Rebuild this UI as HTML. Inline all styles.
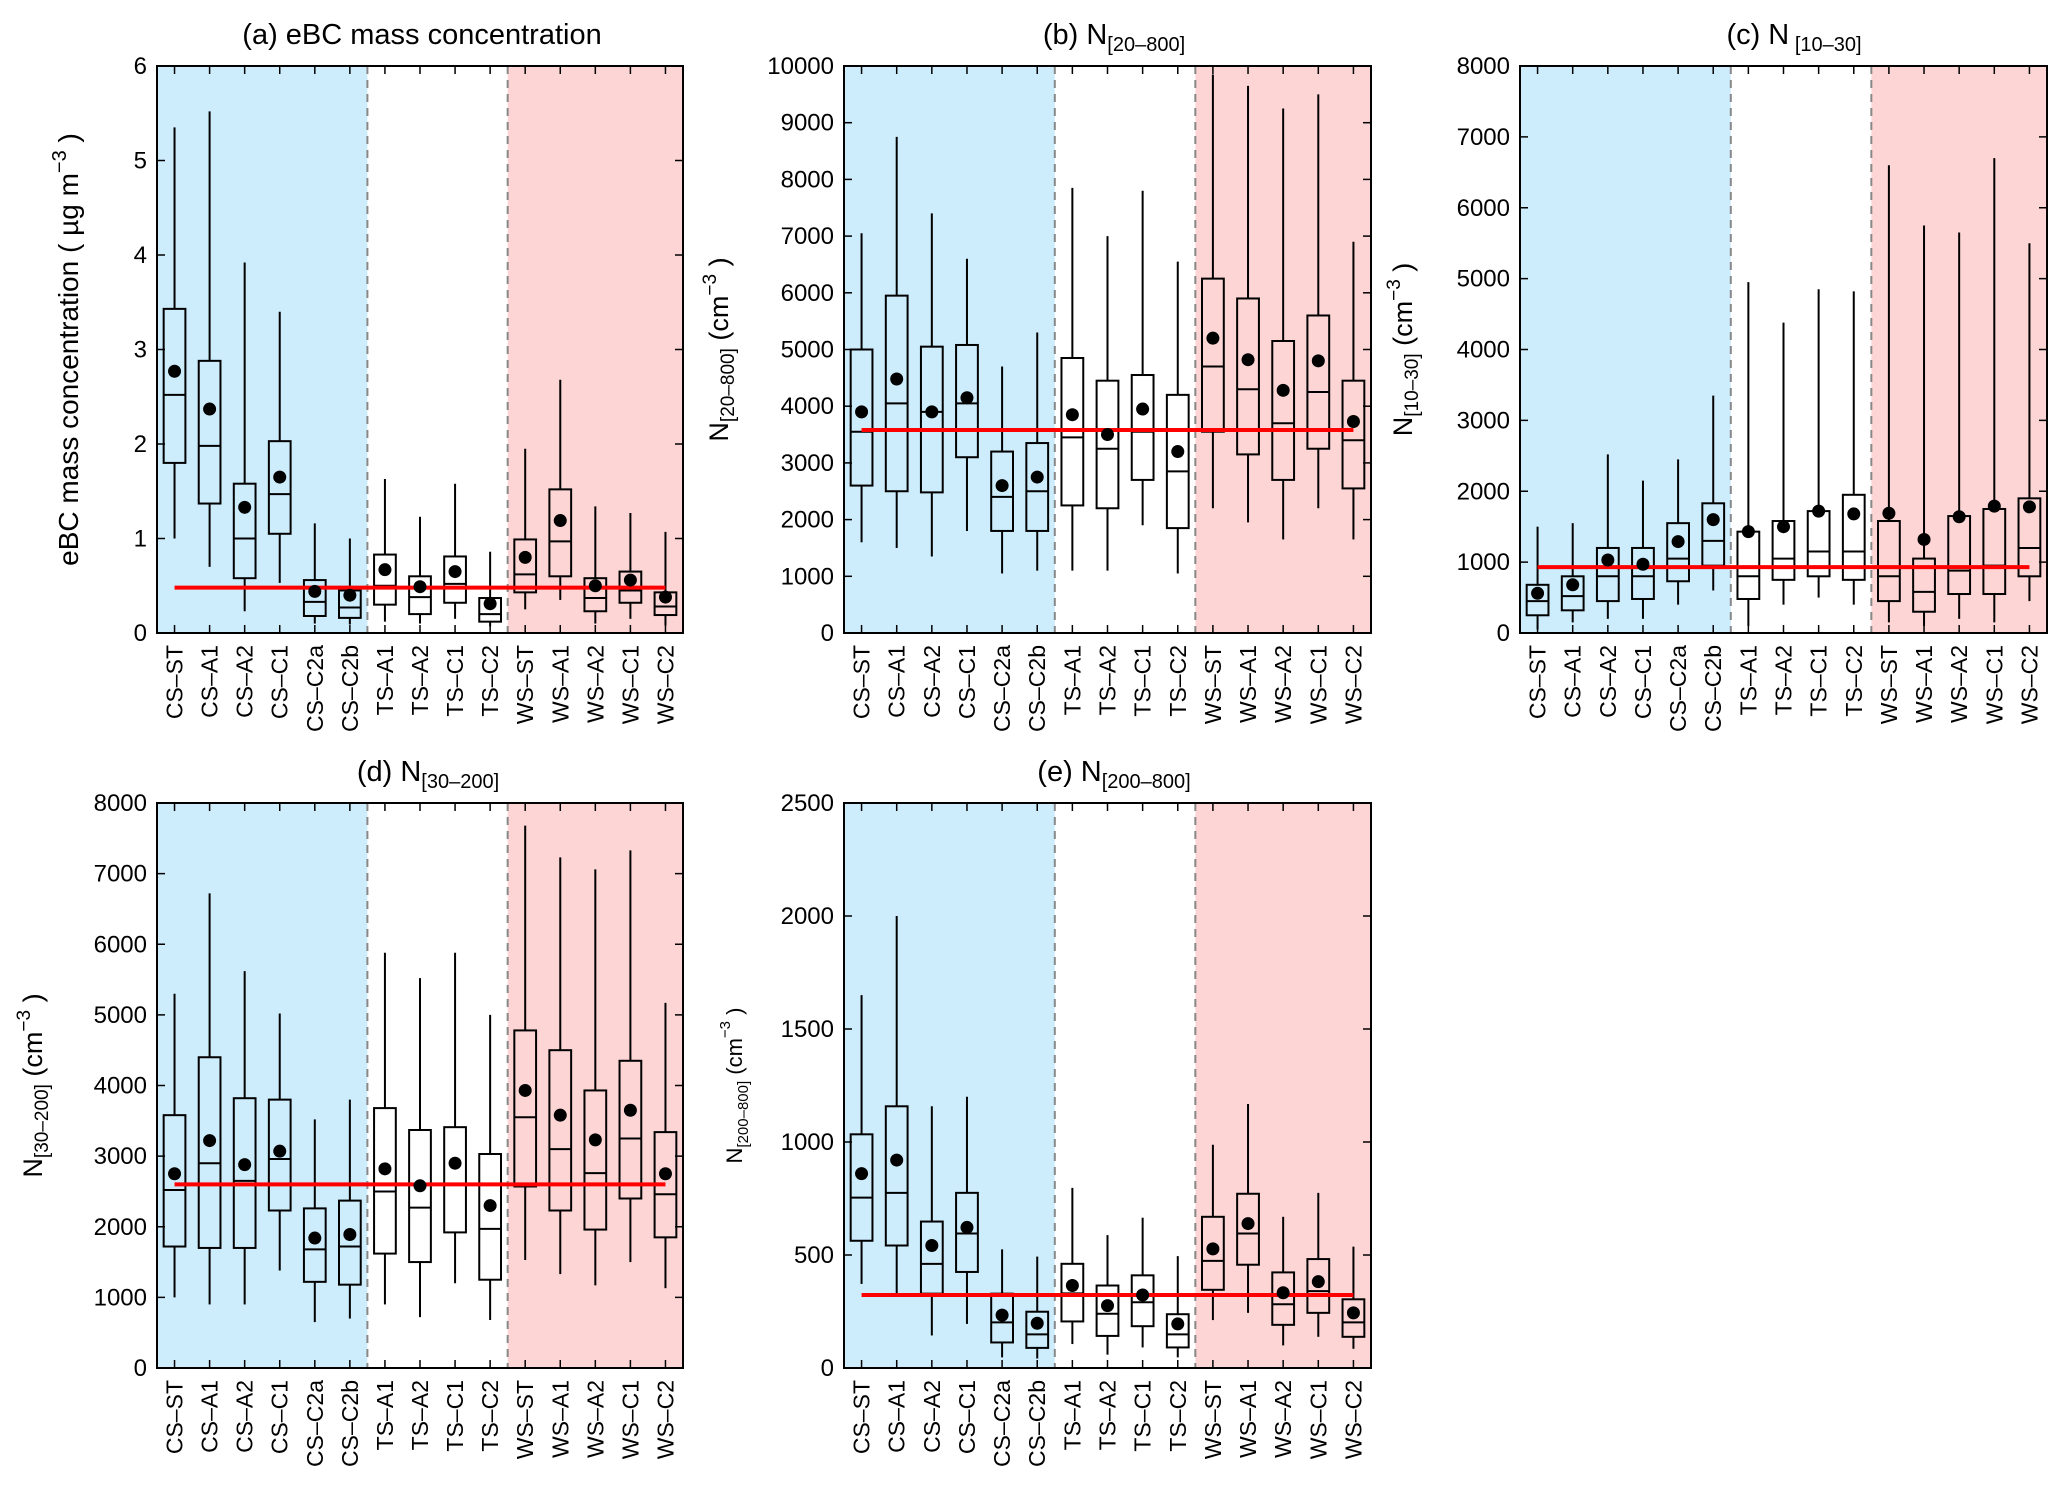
<!DOCTYPE html>
<html><head><meta charset="utf-8"><style>
html,body{margin:0;padding:0;background:#fff}
svg{display:block;font-family:"Liberation Sans",sans-serif}
</style></head><body>
<svg id="fig" width="2067" height="1493" viewBox="0 0 2067 1493"></svg>
<script>
const categories=["CS\u2013ST","CS\u2013A1","CS\u2013A2","CS\u2013C1","CS\u2013C2a","CS\u2013C2b","TS\u2013A1","TS\u2013A2","TS\u2013C1","TS\u2013C2","WS\u2013ST","WS\u2013A1","WS\u2013A2","WS\u2013C1","WS\u2013C2"];
// panel a
const aLow=[1.0,0.7,0.23,0.53,0.1,0.09,0.12,0.1,0.15,0.07,0.25,0.35,0.1,0.15,0.08];
const aQ1=[1.8,1.37,0.58,1.05,0.18,0.16,0.3,0.2,0.32,0.12,0.43,0.6,0.23,0.32,0.19];
const aMed=[2.52,1.98,1.0,1.47,0.33,0.27,0.5,0.38,0.52,0.2,0.62,0.97,0.37,0.45,0.28];
const aQ3=[3.43,2.88,1.58,2.03,0.56,0.45,0.83,0.6,0.81,0.37,0.99,1.52,0.58,0.65,0.43];
const aHigh=[5.35,5.52,3.92,3.4,1.16,1.0,1.63,1.23,1.58,0.86,1.95,2.68,1.34,1.27,1.07];
const aMean=[2.77,2.37,1.33,1.65,0.44,0.4,0.67,0.49,0.65,0.31,0.8,1.19,0.5,0.56,0.38];
const aRef=0.48; const aTicks=[0,1,2,3,4,5,6];
// panel b
const bLow=[1600,1500,1350,1800,1050,1100,1100,1100,1900,1050,2200,1950,1650,2200,1650];
const bQ1=[2600,2500,2480,3100,1800,1800,2250,2200,2700,1850,3550,3150,2700,3250,2550];
const bMed=[3550,4050,3900,4050,2400,2500,3450,3250,3550,2850,4700,4300,3700,4250,3400];
const bQ3=[5000,5950,5050,5080,3200,3350,4850,4450,4550,4200,6250,5900,5150,5600,4450];
const bHigh=[7050,8750,7400,6600,4700,5300,7850,7000,7800,6550,9850,9650,9250,9500,6900];
const bMean=[3900,4480,3900,4150,2600,2750,3850,3500,3950,3200,5200,4820,4280,4800,3730];
const bRef=3580; const bTicks=[0,1000,2000,3000,4000,5000,6000,7000,8000,9000,10000];
// panel c
const cLow=[50,150,200,200,400,600,100,400,500,400,150,100,200,150,450];
const cQ1=[250,320,450,480,730,950,480,750,800,750,450,300,550,550,800];
const cMed=[450,520,800,800,1050,1300,800,1050,1150,1150,800,580,880,950,1200];
const cQ3=[680,800,1200,1200,1550,1830,1430,1580,1720,1950,1580,1050,1650,1750,1900];
const cHigh=[1500,1550,2520,2150,2450,3350,4950,4380,4850,4820,6600,5750,5650,6700,5500];
const cMean=[560,680,1030,970,1290,1600,1430,1500,1720,1680,1690,1320,1640,1790,1780];
const cRef=930; const cTicks=[0,1000,2000,3000,4000,5000,6000,7000,8000];
// panel d
const dLow=[1000,900,900,1380,650,700,900,720,1200,680,1530,1330,1170,1500,1130];
const dQ1=[1720,1700,1700,2230,1220,1180,1620,1500,1920,1250,2570,2230,1960,2400,1850];
const dMed=[2520,2900,2650,2960,1680,1720,2500,2270,2600,1970,3550,3100,2760,3250,2460];
const dQ3=[3580,4400,3820,3800,2260,2370,3680,3370,3410,3030,4780,4500,3930,4350,3340];
const dHigh=[5300,6720,5620,5020,3520,3800,5880,5520,5880,5000,7680,7230,7060,7330,5170];
const dMean=[2750,3220,2880,3070,1840,1890,2820,2580,2900,2300,3930,3580,3230,3650,2750];
const dRef=2600; const dTicks=[0,1000,2000,3000,4000,5000,6000,7000,8000];
// panel e
const eLow=[372,329,144,195,47,42,106,59,91,47,212,244,100,138,85];
const eQ1=[563,542,329,425,113,89,206,142,185,91,346,457,191,244,138];
const eMed=[754,775,461,595,202,149,330,240,291,149,474,595,282,340,202];
const eQ3=[1034,1158,648,775,329,249,461,365,410,238,669,771,423,482,304];
const eHigh=[1650,2000,1158,1200,525,493,797,588,665,495,988,1168,669,775,537];
const eMean=[860,920,542,622,234,198,365,276,323,195,527,639,333,382,244];
const eRef=323; const eTicks=[0,500,1000,1500,2000,2500];

const NS="http://www.w3.org/2000/svg";
const svg=document.getElementById('fig');
function mk(tag,attrs,parent,txt){const e=document.createElementNS(NS,tag);for(const k in attrs)e.setAttribute(k,attrs[k]);if(txt!==undefined)e.textContent=txt;(parent||svg).appendChild(e);return e;}

const panels=[
 {id:'a',x0:157,x1:683,y0:66,y1:633,ymax:6,ticks:aTicks,lo:aLow,q1:aQ1,md:aMed,q3:aQ3,hi:aHigh,mn:aMean,ref:aRef,title:'(a) eBC mass concentration',sub:null,ylab:'a',ylx:78,tx:422},
 {id:'b',x0:844,x1:1371,y0:66,y1:633,ymax:10000,ticks:bTicks,lo:bLow,q1:bQ1,md:bMed,q3:bQ3,hi:bHigh,mn:bMean,ref:bRef,title:'(b) N',sub:'[20\u2013800]',ylab:'n',ylx:728,tx:1114},
 {id:'c',x0:1520,x1:2047,y0:66,y1:633,ymax:8000,ticks:cTicks,lo:cLow,q1:cQ1,md:cMed,q3:cQ3,hi:cHigh,mn:cMean,ref:cRef,title:'(c) N',sub:' [10\u201330]',ylab:'n',ylx:1412,tx:1794},
 {id:'d',x0:157,x1:683,y0:803,y1:1368,ymax:8000,ticks:dTicks,lo:dLow,q1:dQ1,md:dMed,q3:dQ3,hi:dHigh,mn:dMean,ref:dRef,title:'(d) N',sub:'[30\u2013200]',ylab:'n',ylx:42,tx:428},
 {id:'e',x0:844,x1:1371,y0:803,y1:1368,ymax:2500,ticks:eTicks,lo:eLow,q1:eQ1,md:eMed,q3:eQ3,hi:eHigh,mn:eMean,ref:eRef,title:'(e) N',sub:'[200\u2013800]',ylab:'ns',ylx:742,tx:1114}
];

panels.forEach(p=>{
 const g=mk('g',{});
 
 
 const n=categories.length;
 const xs=i=>p.x0+(i+0.5)*(p.x1-p.x0)/n;
 const ys=v=>p.y1-v/p.ymax*(p.y1-p.y0);
 const step=(p.x1-p.x0)/n;
 const bg1=mk('rect',{x:p.x0,y:p.y0,width:step*6,height:p.y1-p.y0,fill:'#cdedfd'},g);
 
 const bg2=mk('rect',{x:p.x0+step*10,y:p.y0,width:step*5,height:p.y1-p.y0,fill:'#fdd5d5'},g);
 
 [6,10].forEach(k=>{const l=mk('line',{x1:p.x0+step*k,x2:p.x0+step*k,y1:p.y0,y2:p.y1,stroke:'#888',"stroke-width":2,"stroke-dasharray":'8,6'},g);
  });
 p.ticks.forEach(t=>{
  const y=ys(t);
  mk('line',{x1:p.x0,x2:p.x0+8,y1:y,y2:y,stroke:'#000',"stroke-width":1.5},g);
  mk('line',{x1:p.x1,x2:p.x1-8,y1:y,y2:y,stroke:'#000',"stroke-width":1.5},g);
  const tl=mk('text',{x:p.x0-10,y:y+8,"text-anchor":'end',"font-size":24},g,String(t));
  
 });
 categories.forEach((c,i)=>{
  const x=xs(i);
  mk('line',{x1:x,x2:x,y1:p.y1,y2:p.y1-8,stroke:'#000',"stroke-width":1.5},g);
  mk('line',{x1:x,x2:x,y1:p.y0,y2:p.y0+8,stroke:'#000',"stroke-width":1.5},g);
  const t=mk('text',{transform:`translate(${x+8},${p.y1+12}) rotate(-90)`,"text-anchor":'end',"font-size":23},g,c);
  
  const bw=step*0.62;
  const box=mk('g',{},g);
  
  mk('line',{x1:x,x2:x,y1:ys(p.hi[i]),y2:ys(p.q3[i]),stroke:'#000',"stroke-width":2},box);
  mk('line',{x1:x,x2:x,y1:ys(p.q1[i]),y2:ys(p.lo[i]),stroke:'#000',"stroke-width":2},box);
  mk('rect',{x:x-bw/2,y:ys(p.q3[i]),width:bw,height:ys(p.q1[i])-ys(p.q3[i]),fill:'none',stroke:'#000',"stroke-width":2},box);
  mk('line',{x1:x-bw/2,x2:x+bw/2,y1:ys(p.md[i]),y2:ys(p.md[i]),stroke:'#000',"stroke-width":2},box);
 });
 const rl=mk('line',{x1:xs(0),x2:xs(n-1),y1:ys(p.ref),y2:ys(p.ref),stroke:'#f00',"stroke-width":4},g);
 
 categories.forEach((c,i)=>{
  const d=mk('circle',{cx:xs(i),cy:ys(p.mn[i]),r:6.5,fill:'#000'},g);
  
 });
 const fr=mk('rect',{x:p.x0,y:p.y0,width:p.x1-p.x0,height:p.y1-p.y0,fill:'none',stroke:'#000',"stroke-width":2},g);
 
 const tt=mk('text',{x:p.tx,y:p.y0-22,"text-anchor":'middle',"font-size":29},g);
 
 tt.appendChild(document.createTextNode(p.title));
 if(p.sub){mk('tspan',{"font-size":20,dy:7},tt,p.sub);}
 const cy=(p.y0+p.y1)/2;
 const yl=mk('text',{transform:`translate(${p.ylx},${cy}) rotate(-90)`,"text-anchor":'middle',"font-size":p.ylab==='ns'?22:(p.ylab==='a'?28:27)},g);
 
 if(p.ylab==='a'){
  yl.appendChild(document.createTextNode('eBC mass concentration ( \u00b5g m'));
  mk('tspan',{"font-size":20,dy:-12},yl,'\u22123');
  mk('tspan',{dy:12},yl,' )');
 } else {
  const fs=p.ylab==='ns'?15:19;
  yl.appendChild(document.createTextNode('N'));
  mk('tspan',{"font-size":fs,dy:6},yl,p.sub.trim());
  mk('tspan',{dy:-6},yl,'  (cm');
  mk('tspan',{"font-size":fs,dy:-12},yl,'\u22123');
  mk('tspan',{dy:12},yl,' )');
 }
});
</script>
</body></html>
